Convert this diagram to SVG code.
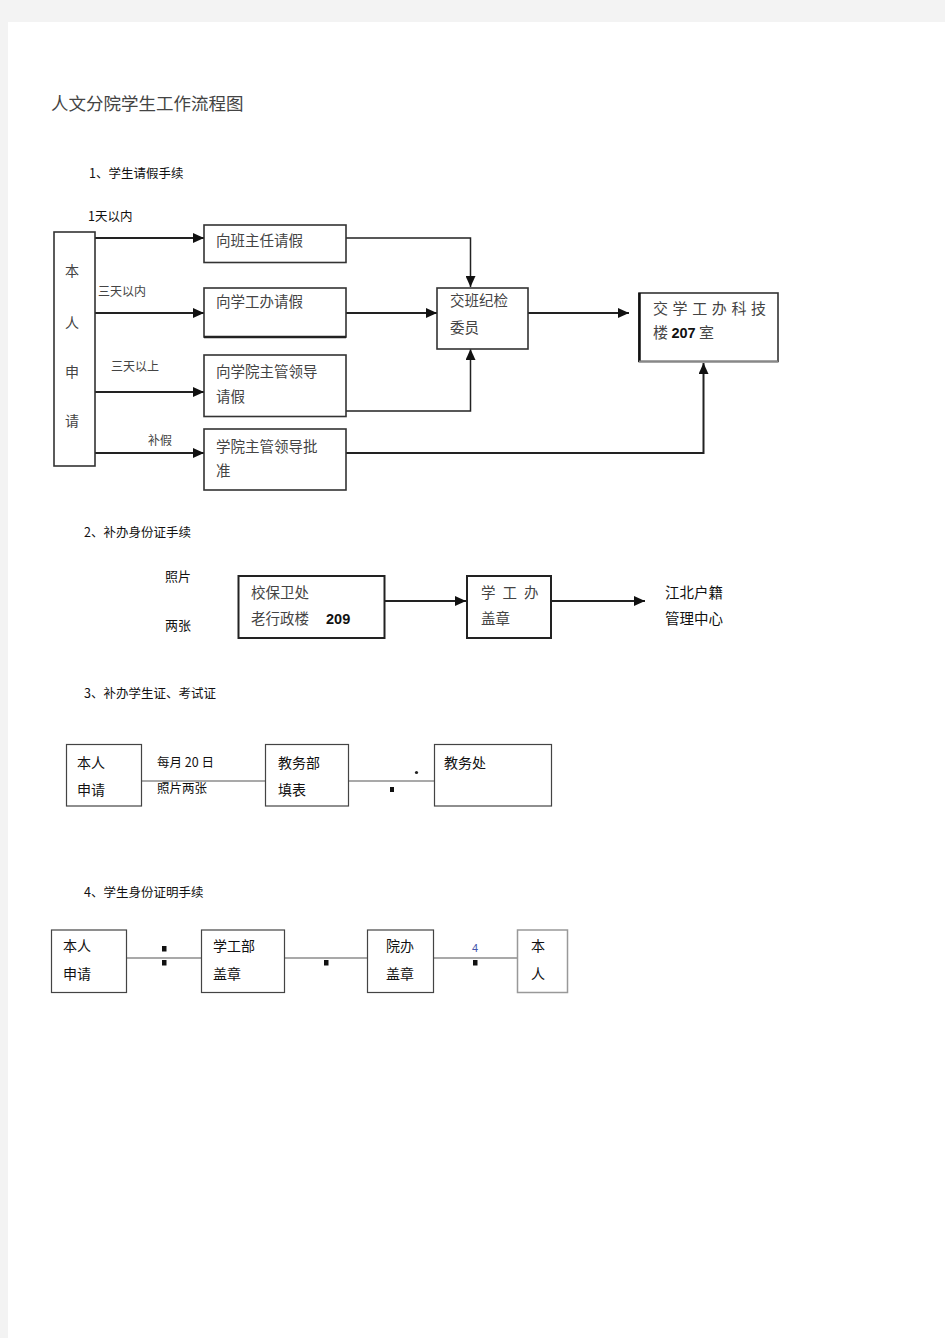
<svg xmlns="http://www.w3.org/2000/svg" width="945" height="1338" viewBox="0 0 945 1338">
<defs>
<marker id="ah" markerUnits="userSpaceOnUse" markerWidth="12" markerHeight="10" refX="11" refY="5" orient="auto">
<path d="M0,0 L11,5 L0,10 Z" fill="#111"/>
</marker>
<style>
.t{font-family:"Noto Sans CJK SC","Liberation Sans",sans-serif;fill:#111}
.g{font-family:"Noto Sans CJK SC","Liberation Sans",sans-serif;fill:#444}
.b1{fill:#fff;stroke:#333;stroke-width:1.6}
.b3{fill:#fff;stroke:#444;stroke-width:1.2}
.c1{fill:none;stroke:#222;stroke-width:2}
.c3{fill:none;stroke:#555;stroke-width:1.2}
.num{font-family:"Liberation Sans",sans-serif;font-weight:bold;fill:#111}
</style>
</defs>
<rect x="0" y="0" width="945" height="1338" fill="#f3f3f3"/>
<rect x="8" y="22" width="937" height="1316" fill="#fff"/>

<text class="g" x="51" y="110" font-size="17.5">人文分院学生工作流程图</text>

<!-- Section 1 -->
<text class="t" x="89" y="178" font-size="12.5">1、学生请假手续</text>
<text class="t" x="88" y="221" font-size="12.5">1天以内</text>

<g id="connectors1">
<line class="c1" x1="95" y1="238" x2="204" y2="238" marker-end="url(#ah)"/>
<line class="c1" x1="95" y1="313" x2="204" y2="313" marker-end="url(#ah)"/>
<line class="c1" x1="95" y1="392" x2="204" y2="392" marker-end="url(#ah)"/>
<line class="c1" x1="95" y1="453" x2="204" y2="453" marker-end="url(#ah)"/>
<polyline class="c1" points="346,238 470.5,238 470.5,287" marker-end="url(#ah)" style="stroke-width:1.5"/>
<line class="c1" x1="346" y1="313" x2="437" y2="313" marker-end="url(#ah)"/>
<polyline class="c1" points="346,411 470.5,411 470.5,349" marker-end="url(#ah)" style="stroke-width:1.5"/>
<line class="c1" x1="528" y1="313" x2="629" y2="313" marker-end="url(#ah)"/>
<polyline class="c1" points="346,453 703.5,453 703.5,363" marker-end="url(#ah)"/>
</g>
<text class="g" x="98" y="296" font-size="12">三天以内</text>
<text class="g" x="111" y="371" font-size="12">三天以上</text>
<text class="g" x="148" y="445" font-size="12">补假</text>

<g id="n-self">
<rect class="b1" x="54" y="232" width="41" height="234"/>
<text class="g" x="72" y="276" font-size="14" text-anchor="middle">本</text>
<text class="g" x="72" y="328" font-size="14" text-anchor="middle">人</text>
<text class="g" x="72" y="377" font-size="14" text-anchor="middle">申</text>
<text class="g" x="72" y="426" font-size="14" text-anchor="middle">请</text>
</g>
<g id="n-banzhuren">
<rect class="b1" x="204" y="225" width="142" height="37.5"/>
<text class="g" x="216" y="246" font-size="14.5">向班主任请假</text>
</g>
<g id="n-xuegongban">
<rect class="b1" x="204" y="288" width="142" height="49"/>
<line x1="204" y1="337" x2="346" y2="337" stroke="#222" stroke-width="2.5"/>
<text class="g" x="216" y="307" font-size="14.5">向学工办请假</text>
</g>
<g id="n-lingdao">
<rect class="b1" x="204" y="355" width="142" height="61.5"/>
<text class="g" x="216" y="377" font-size="14.5">向学院主管领导</text>
<text class="g" x="216" y="402" font-size="14.5">请假</text>
</g>
<g id="n-bujia">
<rect class="b1" x="204" y="429" width="142" height="61"/>
<text class="g" x="216" y="452" font-size="14.5">学院主管领导批</text>
<text class="g" x="216" y="476" font-size="14.5">准</text>
</g>
<g id="n-jijian">
<rect class="b1" x="437" y="288" width="91" height="61"/>
<text class="g" x="450" y="306" font-size="14.5">交班纪检</text>
<text class="g" x="450" y="333" font-size="14.5">委员</text>
</g>
<g id="n-207">
<rect class="b1" x="639" y="293" width="139" height="68.5"/>
<line x1="639.5" y1="293" x2="639.5" y2="362" stroke="#111" stroke-width="2.5"/>
<line x1="639" y1="361.5" x2="778" y2="361.5" stroke="#888" stroke-width="2"/>
<text class="g" x="653" y="314" font-size="15" letter-spacing="4.6">交学工办科技</text>
<text class="g" x="653" y="338" font-size="15">楼 <tspan class="num" font-size="14.5">207</tspan> 室</text>
</g>

<!-- Section 2 -->
<text class="t" x="84" y="537" font-size="12.5">2、补办身份证手续</text>
<text class="t" x="165" y="581" font-size="13">照片</text>
<text class="t" x="165" y="630" font-size="13">两张</text>
<g id="connectors2">
<line class="c1" x1="385" y1="601" x2="466" y2="601" marker-end="url(#ah)"/>
<line class="c1" x1="551" y1="601" x2="645" y2="601" marker-end="url(#ah)"/>
</g>
<g id="n-baowei">
<rect class="b1" x="238.5" y="576" width="146" height="62" style="stroke-width:2;stroke:#222"/>
<text class="g" x="251" y="598" font-size="14.5">校保卫处</text>
<text class="g" x="251" y="624" font-size="14.5">老行政楼</text>
<text class="num" x="326" y="624" font-size="14.5">209</text>
</g>
<g id="n-xgb-stamp">
<rect class="b1" x="467" y="576" width="84" height="62" style="stroke-width:2;stroke:#222"/>
<text class="g" x="481" y="598" font-size="14.5" letter-spacing="7">学工办</text>
<text class="g" x="481" y="624" font-size="14.5">盖章</text>
</g>
<g id="n-hukou">
<text class="t" x="665" y="598" font-size="14.5">江北户籍</text>
<text class="t" x="665" y="624" font-size="14.5">管理中心</text>
</g>

<!-- Section 3 -->
<text class="t" x="84" y="698" font-size="12.5">3、补办学生证、考试证</text>
<g id="connectors3">
<line class="c3" x1="141.5" y1="781" x2="265.5" y2="781"/>
<line class="c3" x1="348.5" y1="781" x2="434.5" y2="781"/>
<circle cx="416.5" cy="772.5" r="1.6" fill="#222"/>
<rect x="390" y="787" width="4" height="5" fill="#111"/>
</g>
<text class="t" x="157" y="767" font-size="12.5">每月 20 日</text>
<text class="t" x="157" y="793" font-size="12.5">照片两张</text>
<g id="n-apply3">
<rect class="b3" x="66.5" y="744.5" width="75" height="61.5"/>
<text class="t" x="77" y="768" font-size="14">本人</text>
<text class="t" x="77" y="795" font-size="14">申请</text>
</g>
<g id="n-jiaowubu">
<rect class="b3" x="265.5" y="744.5" width="83" height="61.5"/>
<text class="t" x="278" y="768" font-size="14">教务部</text>
<text class="t" x="278" y="795" font-size="14">填表</text>
</g>
<g id="n-jiaowuchu">
<rect class="b3" x="434.5" y="744.5" width="117" height="61.5"/>
<text class="t" x="444" y="768" font-size="14">教务处</text>
</g>

<!-- Section 4 -->
<text class="t" x="84" y="897" font-size="12.5">4、学生身份证明手续</text>
<g id="connectors4">
<line class="c3" x1="127" y1="958" x2="201.5" y2="958"/>
<line class="c3" x1="285" y1="958" x2="367.5" y2="958"/>
<line class="c3" x1="434" y1="958" x2="517.5" y2="958"/>
<rect x="162" y="946" width="4.5" height="5.5" fill="#111"/>
<rect x="162" y="960" width="4.5" height="5.5" fill="#111"/>
<rect x="324" y="960" width="4.5" height="5.5" fill="#111"/>
<rect x="473" y="960" width="4.5" height="5.5" fill="#111"/>
</g>
<text x="472" y="952" font-size="11" font-family="Liberation Sans, sans-serif" fill="#4455aa">4</text>
<g id="n-apply4">
<rect class="b3" x="51.5" y="930" width="75" height="62.5"/>
<text class="t" x="63" y="951" font-size="14">本人</text>
<text class="t" x="63" y="979" font-size="14">申请</text>
</g>
<g id="n-xuegongbu">
<rect class="b3" x="201.5" y="930" width="83" height="62.5"/>
<text class="t" x="213" y="951" font-size="14">学工部</text>
<text class="t" x="213" y="979" font-size="14">盖章</text>
</g>
<g id="n-yuanban">
<rect class="b3" x="367.5" y="930" width="66" height="62.5"/>
<text class="t" x="386" y="951" font-size="14">院办</text>
<text class="t" x="386" y="979" font-size="14">盖章</text>
</g>
<g id="n-self4">
<rect x="517.5" y="930" width="50" height="62.5" fill="#fff" stroke="#999" stroke-width="1.5"/>
<text class="t" x="531" y="951" font-size="14">本</text>
<text class="t" x="531" y="979" font-size="14">人</text>
</g>
</svg>
